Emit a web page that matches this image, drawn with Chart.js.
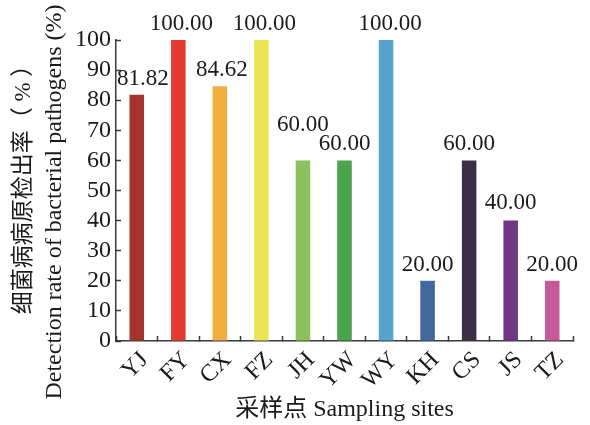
<!DOCTYPE html>
<html>
<head>
<meta charset="utf-8">
<script src="https://cdn.jsdelivr.net/npm/chart.js@4"></script>
<style>
  body { margin: 0; background: #fff; }
  #wrap { width: 590px; height: 425px; }
</style>
</head>
<body>
<div id="wrap"><canvas id="rateChart"></canvas></div>
<script>
// 采样点
const sites = ['YJ', 'FY', 'CX', 'FZ', 'JH', 'YW', 'WY', 'KH', 'CS', 'JS', 'TZ'];
// 检出率 (%)
const detectionRate = [81.82, 100, 84.62, 100, 60, 60, 100, 20, 60, 40, 20];
const barColors = [
  '#a5322b', '#e53a31', '#f2ae41', '#eae654', '#8dc15b', '#4ba34e',
  '#57a2ce', '#43679f', '#3b2e45', '#703783', '#c65a98',
];
const yTicks = [0, 10, 20, 30, 40, 50, 60, 70, 80, 90, 100];

// 数値ラベルの位置ずらし [dx, dy]
const labelShift = [[6, 0], [3, 0], [2, 0], [3, 0], [0, -19], [0, 0], [4, 0], [0, 0], [0, 0], [0, -2], [0, 0]];

const serif = "'Liberation Serif', 'Times New Roman', 'Noto Sans CJK SC', serif";
const inkColor = '#1a1a1a';
const axisColor = '#3a3a3a';

// 棒の上に値を表示
const valueLabels = {
  id: 'valueLabels',
  afterDatasetsDraw(chart) {
    const ctx = chart.ctx;
    const meta = chart.getDatasetMeta(0);
    ctx.save();
    ctx.fillStyle = inkColor;
    ctx.font = '23px ' + serif;
    ctx.textAlign = 'center';
    ctx.textBaseline = 'alphabetic';
    meta.data.forEach(function (bar, i) {
      const s = labelShift[i];
      ctx.fillText(detectionRate[i].toFixed(2), bar.x + s[0], bar.y - 10 + s[1]);
    });
    ctx.restore();
  },
};

// 縦軸タイトル（2行、フォント別）
const yAxisTitle = {
  id: 'yAxisTitle',
  afterDraw(chart) {
    const ctx = chart.ctx;
    ctx.save();
    ctx.fillStyle = inkColor;
    ctx.textAlign = 'center';
    ctx.textBaseline = 'middle';
    ctx.translate(24, 184);
    ctx.rotate(-Math.PI / 2);
    ctx.font = '23px ' + serif;
    ctx.fillText('细菌病病原检出率（ % ）', 0, 0);
    ctx.restore();

    ctx.save();
    ctx.fillStyle = inkColor;
    ctx.textAlign = 'center';
    ctx.textBaseline = 'middle';
    ctx.translate(55, 202);
    ctx.rotate(-Math.PI / 2);
    ctx.font = '24px ' + serif;
    ctx.fillText('Detection rate of bacterial pathogens (%)', 0, 0);
    ctx.restore();
  },
};

new Chart(document.getElementById('rateChart'), {
  type: 'bar',
  data: {
    labels: sites,
    datasets: [
      {
        data: detectionRate,
        backgroundColor: barColors,
        borderWidth: 0,
        barPercentage: 0.35,
        categoryPercentage: 1,
      },
    ],
  },
  options: {
    responsive: true,
    maintainAspectRatio: false,
    animation: false,
    layout: { padding: { top: 40, right: 17, left: 0, bottom: 0 } },
    plugins: {
      legend: { display: false },
      tooltip: { enabled: false },
    },
    scales: {
      x: {
        afterFit(scale) {
          scale.height = 84;
        },
        grid: {
          display: true,
          drawOnChartArea: false,
          tickLength: -5,
          tickColor: axisColor,
          tickWidth: 1.5,
        },
        border: { color: axisColor, width: 1.5 },
        ticks: {
          color: inkColor,
          font: { family: serif, size: 24 },
          autoSkip: false,
          minRotation: 45,
          maxRotation: 45,
          labelOffset: 8,
          padding: 10,
        },
        title: {
          display: true,
          text: '采样点 Sampling sites',
          color: inkColor,
          font: { family: serif, size: 24 },
          padding: { top: 2, bottom: 1 },
        },
      },
      y: {
        min: 0,
        max: 100,
        afterFit(scale) {
          scale.width = 116;
        },
        afterBuildTicks(scale) {
          scale.ticks = yTicks.map((v) => ({ value: v }));
        },
        grid: {
          display: true,
          drawOnChartArea: false,
          tickLength: -5,
          tickColor: axisColor,
          tickWidth: 1.5,
        },
        border: { color: axisColor, width: 1.5 },
        ticks: {
          color: inkColor,
          font: { family: serif, size: 24 },
          autoSkip: false,
          padding: 10,
        },
      },
    },
  },
  plugins: [valueLabels, yAxisTitle],
});
</script>
</body>
</html>
